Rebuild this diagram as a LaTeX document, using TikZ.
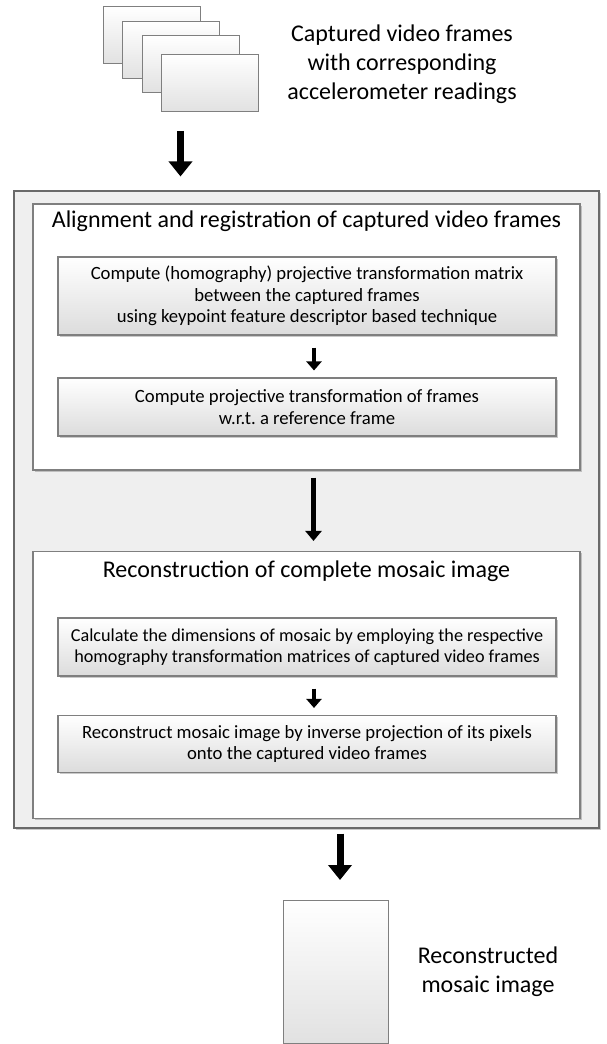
\documentclass[tikz,border=0pt]{standalone}
\usepackage{fontspec}
\setmainfont{Carlito}
\usetikzlibrary{arrows.meta,shadows}
\definecolor{edge}{HTML}{7F7F7F}
\definecolor{darkedge}{HTML}{6A6A6A}
\definecolor{panel}{HTML}{EFEFEF}
\definecolor{shade}{HTML}{DCDCDC}
\frenchspacing

\begin{document}
\begin{tikzpicture}[x=1pt,y=-1pt,
  softshadow/.style={drop shadow={shadow xshift=1.5pt,shadow yshift=-1.5pt,opacity=0.35,fill=black!60}},
  framebox/.style={draw=edge,line width=0.9pt,top color=white,bottom color=shade!85,
    minimum width=97pt,minimum height=57pt,inner sep=0pt,anchor=north west},
  outerbox/.style={draw=darkedge,line width=1.1pt,fill=panel,inner sep=0pt,softshadow},
  stagebox/.style={draw=edge,line width=1.1pt,fill=white,inner sep=0pt,softshadow},
  stepbox/.style={draw=edge,line width=1.1pt,top color=white,bottom color=shade,
    minimum width=498pt,inner sep=0pt,align=center,
    font=\fontsize{18.7}{21.5}\selectfont,softshadow},
  headtext/.style={font=\fontsize{24}{29}\selectfont,align=center,inner sep=0pt},
  bigarrow/.style={line width=7pt,-{Triangle[width=23pt,length=15pt]}},
  midarrow/.style={line width=5.5pt,-{Triangle[width=16pt,length=10pt]}},
  smallarrow/.style={line width=4pt,-{Triangle[width=15pt,length=9pt]}}]

\useasboundingbox (0,0) rectangle (606,1044);

% stack of captured frames
\node[framebox] (f1) at (103,6) {};
\node[framebox] (f2) at (122,21) {};
\node[framebox] (f3) at (142,35) {};
\node[framebox] (f4) at (161,54) {};
\node[headtext] (intext) at (402,64) {Captured video frames\\with corresponding\\accelerometer readings};

% processing panel
\node[outerbox,minimum width=585pt,minimum height=637pt] (outer) at (306.5,509.5) {};

\node[stagebox,minimum width=547pt,minimum height=266pt] (stage1) at (306.5,337) {};
\node[headtext] (title1) at (306.5,221) {Alignment and registration of captured video frames};
\node[stepbox,minimum height=78pt] (homog) at (307,296) {Compute (homography) projective transformation matrix\\between the captured frames\\using keypoint feature descriptor based technique};
\node[stepbox,minimum height=58pt] (proj) at (307,407) {Compute projective transformation of frames\\w.r.t. a reference frame};

\node[stagebox,minimum width=547pt,minimum height=267pt] (stage2) at (306.5,685) {};
\node[headtext] (title2) at (306.5,571) {Reconstruction of complete mosaic image};
\node[stepbox,minimum height=58pt,font=\fontsize{18.2}{21.5}\selectfont] (dims) at (307,647) {Calculate the dimensions of mosaic by employing the respective\\homography transformation matrices of captured video frames};
\node[stepbox,minimum height=57pt] (inverse) at (307,744) {Reconstruct mosaic image by inverse projection of its pixels\\onto the captured video frames};

% output mosaic
\node[draw=edge,line width=0.9pt,top color=white,bottom color=shade!85,
  minimum width=105pt,minimum height=143pt,inner sep=0pt,anchor=north west] (mosaic) at (283,900) {};
\node[headtext] (outtext) at (488,972) {Reconstructed\\mosaic image};

% connectors
\coordinate (a1x) at (180.5,0);
\coordinate (a2x) at (313.5,0);
\coordinate (a3x) at (340,0);
\coordinate (a4x) at (314,0);
\draw[bigarrow,shorten <=19pt,shorten >=14pt] (a1x |- f4.south) -- (a1x |- outer.north);
\draw[midarrow,shorten <=7pt,shorten >=10pt] (a2x |- stage1.south) -- (a2x |- stage2.north);
\draw[smallarrow,shorten <=12pt,shorten >=7pt] (a4x |- homog.south) -- (a4x |- proj.north);
\draw[smallarrow,shorten <=12pt,shorten >=7pt] (a4x |- dims.south) -- (a4x |- inverse.north);
\draw[bigarrow,shorten <=5pt,shorten >=20pt] (a3x |- outer.south) -- (a3x |- mosaic.north);
\end{tikzpicture}
\end{document}
